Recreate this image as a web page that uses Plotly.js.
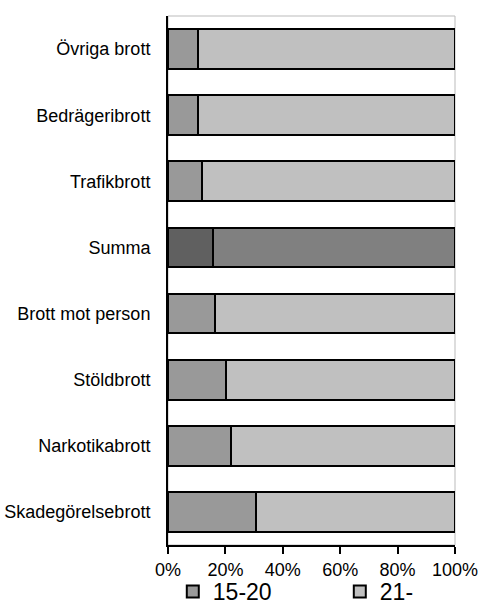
<!DOCTYPE html>
<html>
<head>
<meta charset="utf-8">
<script src="https://cdn.plot.ly/plotly-3.0.1.min.js"></script>
<style>html,body{margin:0;padding:0;background:#fff;}#chart{width:480px;height:605px;}</style>
</head>
<body>
<div id="chart"></div>
<script>
var categories = ["Övriga brott", "Bedrägeribrott", "Trafikbrott", "Summa", "Brott mot person", "Stöldbrott", "Narkotikabrott", "Skadegörelsebrott"];
var young = [10.4, 10.5, 11.9, 15.7, 16.3, 20.3, 22.1, 30.6];
var adult = young.map(function(v){ return 100 - v; });
var seriesNames = ["15-20", "21-"];
var xTickVals = [0, 20, 40, 60, 80, 100];
var xTickText = ["0%", "20%", "40%", "60%", "80%", "100%"];

var youngColors = categories.map(function(c){ return c === "Summa" ? "#606060" : "#999999"; });
var adultColors = categories.map(function(c){ return c === "Summa" ? "#808080" : "#c0c0c0"; });

var traces = [
  {type:"bar", orientation:"h", name:seriesNames[0], y:categories, x:young, legend:"legend",
   marker:{color:youngColors, line:{color:"#000", width:2}}, hoverinfo:"x+y"},
  {type:"bar", orientation:"h", name:seriesNames[1], y:categories, x:adult, legend:"legend2",
   marker:{color:adultColors, line:{color:"#000", width:2}}, hoverinfo:"x+y"}
];
var legendStyle = function(xpos){
  return {orientation:"h", xref:"paper", yref:"paper", x:xpos, xanchor:"left", y:-0.088, yanchor:"middle",
          font:{size:23, color:"#000"}, bgcolor:"rgba(0,0,0,0)", borderwidth:0};
};
var layout = {
  width:480, height:605,
  margin:{l:168, r:25, t:16, b:60, autoexpand:false},
  barmode:"stack", bargap:0.4,
  paper_bgcolor:"#fff", plot_bgcolor:"#fff",
  font:{family:"Liberation Sans, Arial, sans-serif", size:18, color:"#000"},
  xaxis:{range:[0,100], tickvals:xTickVals, ticktext:xTickText, ticks:"outside", ticklen:7, tickwidth:2, tickcolor:"#000",
         showline:true, linecolor:"#000", linewidth:2, showgrid:false, zeroline:false, fixedrange:true,
         tickfont:{size:18, color:"#000"}},
  yaxis:{autorange:"reversed", showline:true, linecolor:"#000", linewidth:2, showgrid:false, ticks:"", ticklabelstandoff:12,
         tickfont:{size:18, color:"#000"}, fixedrange:true},
  showlegend:true,
  legend:legendStyle(0.0167),
  legend2:legendStyle(0.5986),
  shapes:[{type:"rect", xref:"paper", yref:"paper", x0:0, x1:1, y0:0, y1:1, line:{color:"#bbbbbb", width:1}, layer:"below"}]
};
Plotly.newPlot("chart", traces, layout, {displayModeBar:false, staticPlot:true});
</script>
</body>
</html>
